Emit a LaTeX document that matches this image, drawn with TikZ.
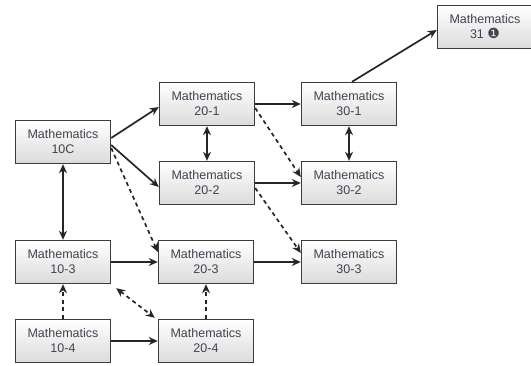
\documentclass[tikz,border=0pt]{standalone}
\usepackage{fontspec}
\setmainfont{Liberation Sans}
\newfontfamily\dejavu{DejaVu Sans}
\usepackage{tikz}
\usetikzlibrary{arrows.meta,positioning}
\definecolor{boxline}{RGB}{60,60,60}
\definecolor{boxtext}{RGB}{70,65,80}

\begin{document}
\begin{tikzpicture}[
  x=1pt,y=-1pt,
  box/.style={draw=boxline,line width=1.4pt,top color=white,bottom color=black!14,
    minimum width=95pt,minimum height=43pt,inner sep=0pt,
    font=\fontsize{12.5}{15}\selectfont,text=boxtext,align=center},
  arr/.style={-{Stealth[length=9pt,width=8pt]},line width=1.7pt,black!85},
  darr/.style={{Stealth[length=9pt,width=8pt]}-{Stealth[length=9pt,width=8pt]},line width=1.7pt,black!85},
  dsh/.style={dash pattern=on 4pt off 3.5pt}
]
  \useasboundingbox (0,0) rectangle (531,366);
  % Stream -1
  \node[box] (m10c) at (63,142) {Mathematics\\10C};
  \node[box] (m201) at (207,104) {Mathematics\\20-1};
  \node[box] (m202) at (207,183) {Mathematics\\20-2};
  \node[box] (m301) at (349,104) {Mathematics\\30-1};
  \node[box] (m302) at (349,183) {Mathematics\\30-2};
  \node[box] (m31) at (485,27) {Mathematics\\31 {\dejavu\fontsize{14}{14}\selectfont ❶}};
  % Stream -3 and -4
  \node[box] (m103) at (63,262) {Mathematics\\10-3};
  \node[box] (m203) at (206,262) {Mathematics\\20-3};
  \node[box] (m303) at (349,262) {Mathematics\\30-3};
  \node[box] (m104) at (63,341) {Mathematics\\10-4};
  \node[box] (m204) at (206,341) {Mathematics\\20-4};
  % Solid arrows
  \draw[arr] ([yshift=4pt]m10c.east) -- ([yshift=-3pt]m201.west);
  \draw[arr] ([yshift=-3pt]m10c.east) -- ([yshift=-4pt]m202.west);
  \draw[arr] (m201) -- (m301);
  \draw[arr] (m202) -- (m302);
  \draw[arr] ([xshift=3pt]m301.north) -- ([yshift=-3pt]m31.west);
  \draw[arr] (m103) -- (m203);
  \draw[arr] (m203) -- (m303);
  \draw[arr] (m104) -- (m204);
  \draw[darr] (m201) -- (m202);
  \draw[darr] (m301) -- (m302);
  \draw[darr] (m10c) -- (m103);
  % Dashed arrows
  \draw[arr,dsh] ([yshift=-6pt]m10c.east) -- ([yshift=10pt]m203.west);
  \draw[arr,dsh] ([yshift=-4pt]m201.east) -- ([yshift=6pt]m302.west);
  \draw[arr,dsh] ([yshift=-5pt]m202.east) -- ([yshift=9pt]m303.west);
  \draw[arr,dsh] (m104) -- (m103);
  \draw[arr,dsh] (m204) -- (m203);
  \draw[darr,dsh] ([xshift=5pt,yshift=-4pt]m103.south east) -- ([xshift=-3pt,yshift=1pt]m204.north west);
\end{tikzpicture}
\end{document}
